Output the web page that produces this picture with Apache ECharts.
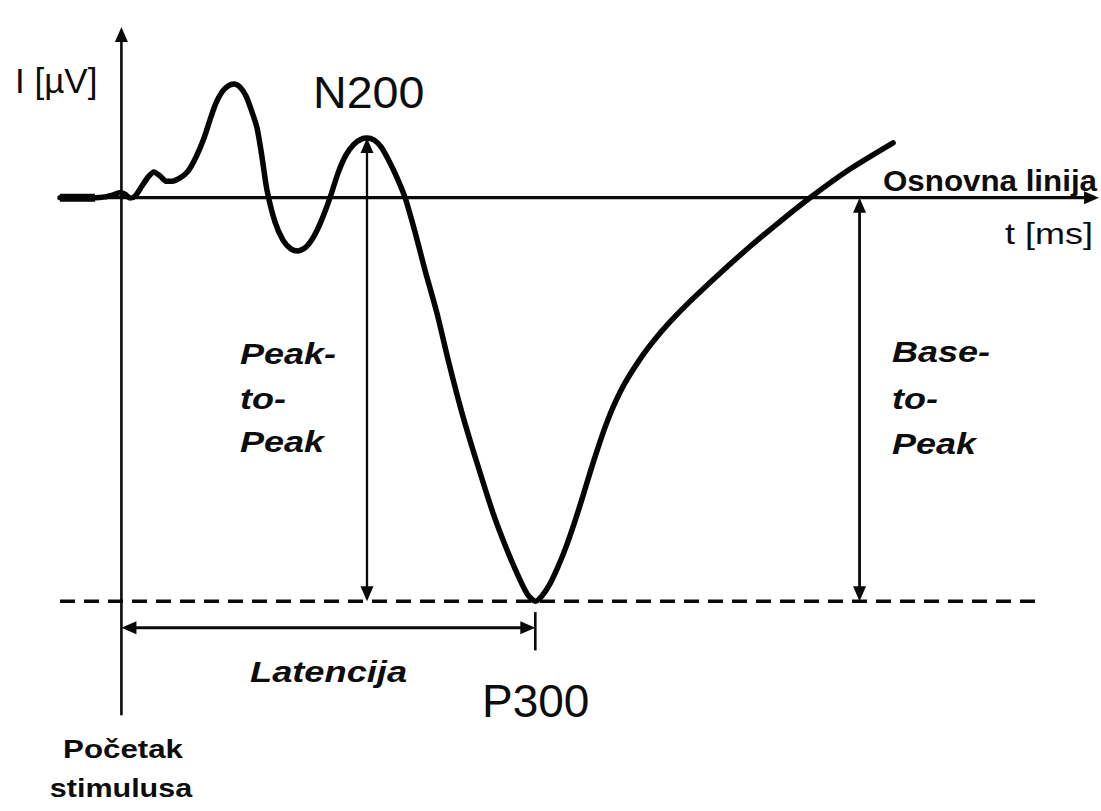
<!DOCTYPE html>
<html>
<head>
<meta charset="utf-8">
<script src="https://cdn.jsdelivr.net/npm/echarts@6/dist/echarts.min.js"></script>
<style>
  html, body { margin: 0; padding: 0; background: #ffffff; }
  #chart { width: 1101px; height: 811px; }
</style>
</head>
<body>
<div id="chart"></div>
<script>
// ERP waveform (negative up): time after stimulus onset in ms, amplitude in µV
const timeMs = [-44.5, -30, -19.1, -11.9, -6.1, -1.0, 2.6, 6.2, 9.9, 14.9,
                19.3, 23.6, 28.0, 32.3, 36.7, 42.5, 48.3, 54.1, 59.9, 64.2,
                68.6, 72.9, 77.3, 81.6, 86.0, 90.3, 94.7, 98.3, 101.9, 105.5,
                111.3, 117.1, 122.9, 128.0, 133.8, 139.6, 145.4, 151.2, 157.0, 162.8,
                168.6, 173.7, 178.0, 183.1, 188.2, 194.0, 199.8, 205.6, 212.8, 220.0,
                228.7, 237.4, 246.9, 257.7, 269.3, 279.5, 288.9, 294.7, 300, 304.8,
                310.6, 316.4, 322.2, 328.0, 333.8, 339.6, 345.4, 351.2, 357.0, 365.0,
                375.9, 386.7, 397.6, 412.1, 433.9, 455.6, 477.3, 499.1, 528.1, 559.3];
const amplitudeUv = [0, 0, 0, -0.02, -0.07, -0.12, -0.09, 0.01, -0.04, -0.29,
                     -0.51, -0.64, -0.54, -0.41, -0.41, -0.49, -0.66, -1.01, -1.48, -1.93,
                     -2.35, -2.62, -2.77, -2.82, -2.74, -2.52, -2.12, -1.73, -1.01, -0.19,
                     0.60, 1.05, 1.27, 1.32, 1.22, 0.95, 0.53, 0, -0.61, -1.06,
                     -1.33, -1.45, -1.48, -1.43, -1.26, -0.91, -0.49, 0, 0.85, 1.79,
                     2.86, 4.10, 5.34, 6.57, 7.81, 8.73, 9.47, 9.85, 10, 9.87,
                     9.57, 9.15, 8.66, 8.09, 7.47, 6.82, 6.20, 5.63, 5.14, 4.59,
                     4.00, 3.51, 3.08, 2.57, 1.87, 1.21, 0.59, 0, -0.71, -1.36];

// Components
const n200 = [178, -1.48];   // [ms, µV]
const p300 = [300, 10];      // [ms, µV]

// Axis extents
const timeAxisRange = [-88, 710];
const ampAxisRange = [-4.9, 15.2];
const baselineSpan = [-44.5, 708.6];   // ms
const ampAxisSpan = [12.83, -4.23];    // µV
const p300LevelSpan = [-44.5, 666];    // ms
const baseToPeakTime = 535;            // ms
const latencyLevel = 10.66;            // µV (row of the latency arrow)
const latencyTick = [10.27, 11.22];    // µV

// Guide segments: [t1, v1, t2, v2, headAtStart, headAtEnd]
const guides = [
  [0, ampAxisSpan[0], 0, ampAxisSpan[1], 0, 1],
  [baselineSpan[0], 0, baselineSpan[1], 0, 0, 1],
  [p300LevelSpan[0], p300[1], p300LevelSpan[1], p300[1], 0, 0],
  [n200[0], n200[1], n200[0], p300[1], 1, 1],
  [baseToPeakTime, 0, baseToPeakTime, p300[1], 1, 1],
  [0, latencyLevel, p300[0], latencyLevel, 1, 1],
  [p300[0], latencyTick[0], p300[0], latencyTick[1], 0, 0]
];
const guideStyle = [
  { width: 2.6 },
  { width: 3.2 },
  { width: 3.4, dash: [15, 9] },
  { width: 2.3 },
  { width: 2.8 },
  { width: 3 },
  { width: 2.6 }
];

const HEAD_LEN = 15, HEAD_W = 13;

function renderGuide(params, api) {
  const a = api.coord([api.value(0), api.value(1)]);
  const b = api.coord([api.value(2), api.value(3)]);
  const hs = api.value(4), he = api.value(5);
  const st = guideStyle[params.dataIndex];
  const dx = b[0] - a[0], dy = b[1] - a[1];
  const len = Math.sqrt(dx * dx + dy * dy) || 1;
  const ux = dx / len, uy = dy / len, px = -uy, py = ux;
  const s = hs ? HEAD_LEN * 0.7 : 0, e = he ? HEAD_LEN * 0.7 : 0;
  const children = [{
    type: 'line',
    shape: { x1: a[0] + ux * s, y1: a[1] + uy * s, x2: b[0] - ux * e, y2: b[1] - uy * e },
    style: { stroke: '#0a0a0a', lineWidth: st.width, lineDash: st.dash || null }
  }];
  function head(tip, dirx, diry) {
    const bx = tip[0] - dirx * HEAD_LEN, by = tip[1] - diry * HEAD_LEN;
    children.push({
      type: 'polygon',
      shape: { points: [tip, [bx + px * HEAD_W / 2, by + py * HEAD_W / 2], [bx - px * HEAD_W / 2, by - py * HEAD_W / 2]] },
      style: { fill: '#0a0a0a' }
    });
  }
  if (he) head(b, ux, uy);
  if (hs) head(a, -ux, -uy);
  return { type: 'group', children: children };
}

// Text annotations (pixel layout)
const FONT = '"Liberation Sans", Arial, Helvetica, sans-serif';
const textLayout = [
  { text: 'I [µV]', x: 15, y: 80, size: 35, weight: 'normal', style: 'normal', sx: 1, align: 'left' },
  { text: 'N200', x: 313, y: 93, size: 44, weight: 'normal', style: 'normal', sx: 1.06, align: 'left' },
  { text: 'Osnovna linija', x: 1097, y: 181, size: 29, weight: 'bold', style: 'normal', sx: 1.08, align: 'right' },
  { text: 't [ms]', x: 1093, y: 234, size: 30, weight: 'normal', style: 'normal', sx: 1.2, align: 'right' },
  { text: 'Peak-', x: 240, y: 354, size: 30, weight: 'bold', style: 'italic', sx: 1.2, align: 'left' },
  { text: 'to-', x: 240, y: 399, size: 30, weight: 'bold', style: 'italic', sx: 1.2, align: 'left' },
  { text: 'Peak', x: 240, y: 442, size: 30, weight: 'bold', style: 'italic', sx: 1.2, align: 'left' },
  { text: 'Base-', x: 892, y: 352, size: 30, weight: 'bold', style: 'italic', sx: 1.2, align: 'left' },
  { text: 'to-', x: 892, y: 399, size: 30, weight: 'bold', style: 'italic', sx: 1.2, align: 'left' },
  { text: 'Peak', x: 892, y: 444, size: 30, weight: 'bold', style: 'italic', sx: 1.2, align: 'left' },
  { text: 'Latencija', x: 250, y: 672, size: 29, weight: 'bold', style: 'italic', sx: 1.25, align: 'left' },
  { text: 'P300', x: 482, y: 701, size: 46, weight: 'normal', style: 'normal', sx: 1, align: 'left' },
  { text: 'Početak', x: 123, y: 749, size: 25, weight: 'bold', style: 'normal', sx: 1.25, align: 'center' },
  { text: 'stimulusa', x: 121, y: 788, size: 25, weight: 'bold', style: 'normal', sx: 1.22, align: 'center' }
];

const chart = echarts.init(document.getElementById('chart'), null, { renderer: 'svg' });

chart.setOption({
  animation: false,
  backgroundColor: '#ffffff',
  grid: { left: 0, right: 0, top: 0, bottom: 0 },
  xAxis: { type: 'value', min: timeAxisRange[0], max: timeAxisRange[1], show: false },
  yAxis: { type: 'value', min: ampAxisRange[0], max: ampAxisRange[1], inverse: true, show: false },
  series: [
    {
      type: 'custom',
      coordinateSystem: 'cartesian2d',
      data: guides,
      encode: { x: [0, 2], y: [1, 3] },
      renderItem: renderGuide,
      clip: false,
      silent: true,
      z: 2
    },
    {
      type: 'line',
      data: timeMs.map(function (t, i) { return [t, amplitudeUv[i]]; }),
      smooth: 0.25,
      symbol: 'none',
      lineStyle: { color: '#050505', width: 5.5, cap: 'round', join: 'round' },
      clip: false,
      silent: true,
      z: 4
    },
    {
      // heavier pre-stimulus trace
      type: 'line',
      data: timeMs.slice(0, 3).map(function (t, i) { return [t, amplitudeUv[i]]; }),
      symbol: 'none',
      lineStyle: { color: '#050505', width: 8 },
      clip: false,
      silent: true,
      z: 4
    }
  ],
  graphic: textLayout.map(function (d) {
    return {
      type: 'text',
      x: d.x,
      y: d.y,
      scaleX: d.sx,
      silent: true,
      z: 10,
      style: {
        text: d.text,
        font: d.style + ' ' + d.weight + ' ' + d.size + 'px ' + FONT,
        fill: '#0d0d0d',
        align: d.align,
        verticalAlign: 'middle'
      }
    };
  })
});
</script>
</body>
</html>
